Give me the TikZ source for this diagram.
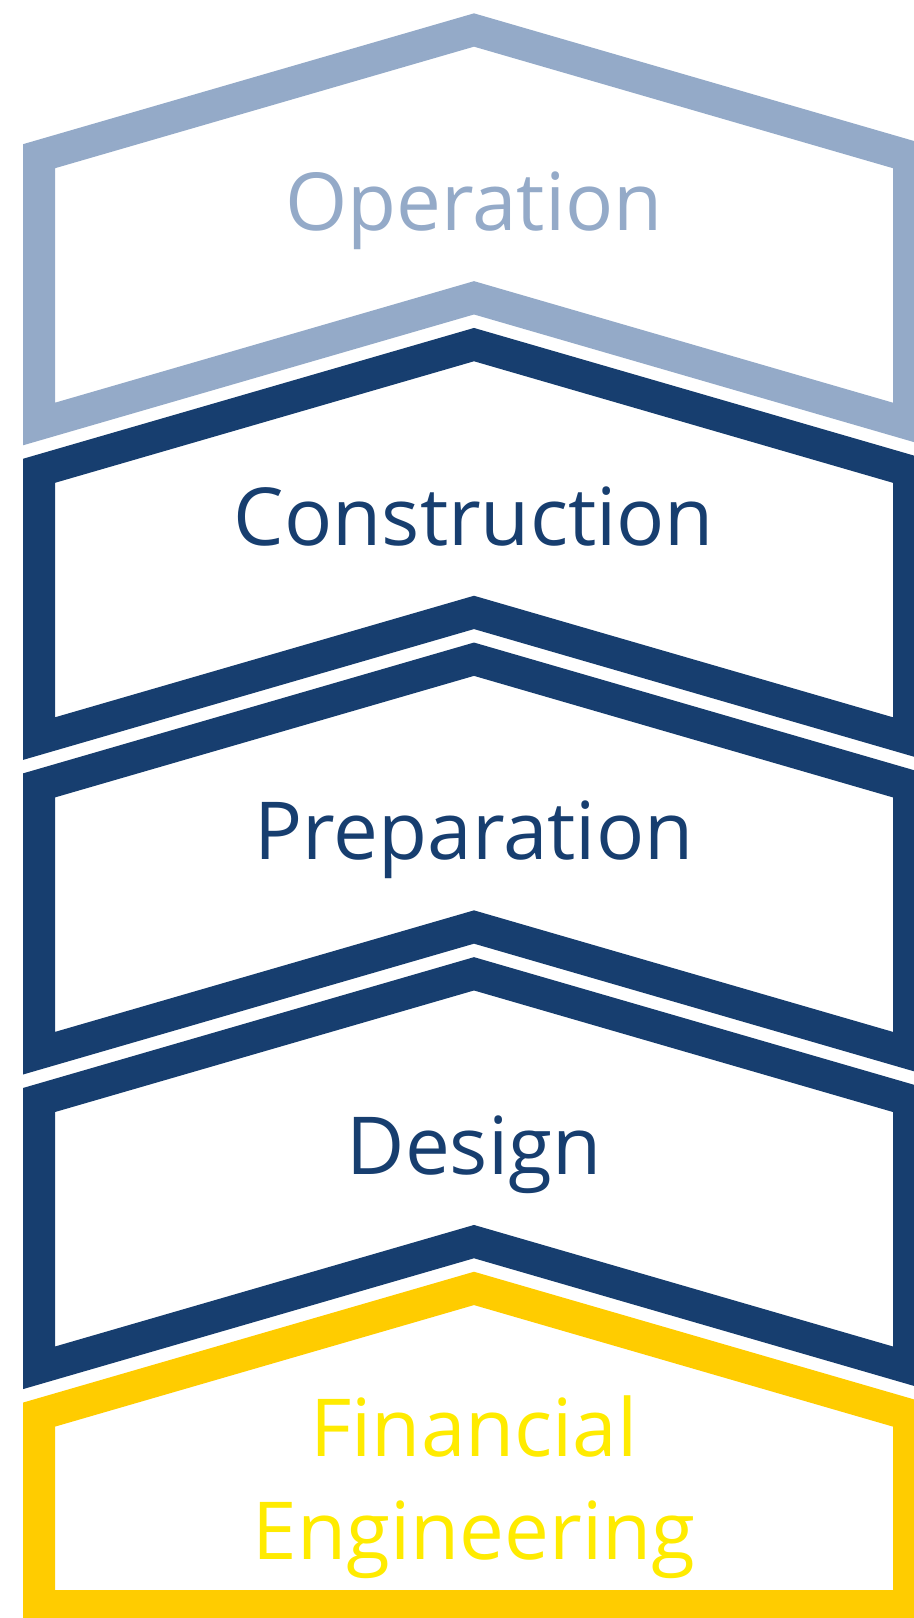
\documentclass[tikz,border=0pt]{standalone}
\usepackage{fontspec}
\setmainfont{Open Sans}
\usepackage{tikz}
\definecolor{opblue}{HTML}{94AAC8}
\definecolor{navy}{HTML}{173E6F}
\definecolor{gold}{HTML}{FFCC00}
\definecolor{lemon}{HTML}{FFEB00}

\begin{document}
\begin{tikzpicture}[x=0.5pt,y=-0.5pt,
    band/.style={line width=16pt,line join=miter},
    stage/.style={anchor=base,inner sep=0pt,font=\fontsize{40}{51.5}\selectfont}]
  \useasboundingbox (0,0) rectangle (914,1618);
  \clip (0,0) rectangle (914,1618);

  \draw[band,opblue] (474,30) -- ++(-435,126.2) -- ++(0,267.8) -- ++(435,-126.2)
      -- ++(435,126.2) -- ++(0,-267.8) -- cycle;
  \draw[band,navy] (474,344.6) -- ++(-435,126.2) -- ++(0,267.8) -- ++(435,-126.2)
      -- ++(435,126.2) -- ++(0,-267.8) -- cycle;
  \draw[band,navy] (474,659.2) -- ++(-435,126.2) -- ++(0,267.8) -- ++(435,-126.2)
      -- ++(435,126.2) -- ++(0,-267.8) -- cycle;
  \draw[band,navy] (474,973.8) -- ++(-435,126.2) -- ++(0,267.8) -- ++(435,-126.2)
      -- ++(435,126.2) -- ++(0,-267.8) -- cycle;
  \draw[band,gold] (474,1288.4) -- ++(-435,126.2) -- (39,1606) -- (909,1606)
      -- (909,1414.6) -- cycle;

  \node[stage,text=opblue] (op) at (474,230) {Operation};
  \node[stage,text=navy] (con) at (474,545) {Construction};
  \node[stage,text=navy] (prep) at (474,859) {Preparation};
  \node[stage,text=navy] (des) at (474,1174) {Design};
  \node[stage,text=lemon,align=center] (fin) at (474,1559) {Financial\\Engineering};
\end{tikzpicture}
\end{document}
